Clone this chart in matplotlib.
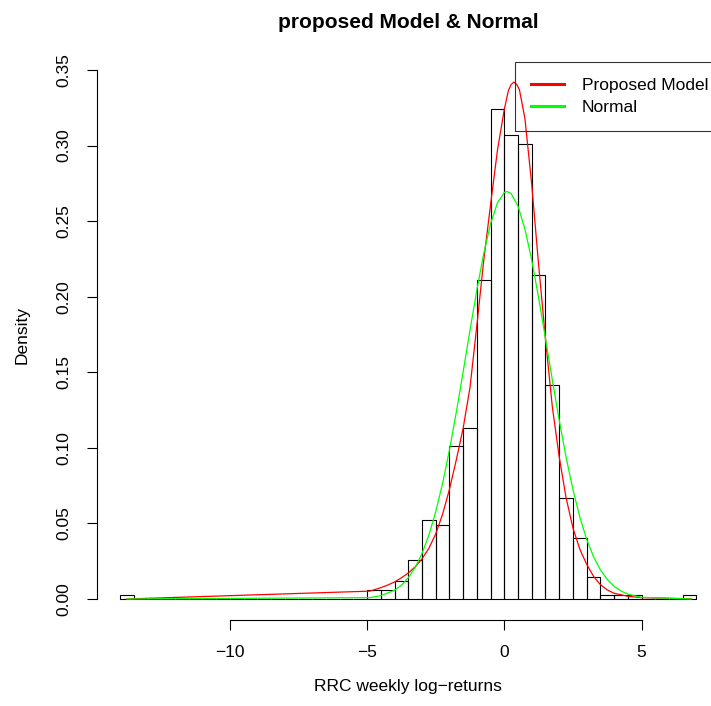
import numpy as np
import matplotlib
matplotlib.use("Agg")
import matplotlib.pyplot as plt

plt.rcParams["font.family"] = ["Liberation Sans", "DejaVu Sans"]

# histogram: bins of width 0.5 from -14 to 7, counts
bin_width = 0.5
bin_left = np.arange(-14.0, 7.0, bin_width)
counts = [1] + [0] * 17 + [2, 2, 4, 9, 18, 17, 35, 39, 73, 112,
                           106, 104, 74, 49, 23, 14, 5, 1, 1, 1] + [0, 0, 0, 1]

# fitted "proposed model" density, evaluated at the observations
red_x = [-13.75, -4.9, -4.5, -4.25, -4.0, -3.75, -3.5, -3.25, -3.0, -2.75,
         -2.5, -2.25, -2.0, -1.75, -1.5, -1.25, -1.0, -0.75, -0.5, -0.25,
         0.0, 0.15, 0.25, 0.35, 0.45, 0.55, 0.75, 1.0, 1.25, 1.5, 1.75, 2.0,
         2.25, 2.5, 2.75, 3.0, 3.25, 3.5, 3.75, 4.0, 4.5, 5.0, 6.8]
red_y = [0.0, 0.0052, 0.0075, 0.0092, 0.0113, 0.0140, 0.0172, 0.0212, 0.0265, 0.0335,
         0.0430, 0.0560, 0.0725, 0.092, 0.113, 0.140, 0.181, 0.224, 0.261, 0.297,
         0.324, 0.3365, 0.3404, 0.342, 0.3405, 0.337, 0.318, 0.274, 0.221, 0.172, 0.127, 0.094,
         0.067, 0.047, 0.033, 0.023, 0.015, 0.0095, 0.006, 0.0038, 0.0018, 0.0009, 0.0001]

# fitted normal density
green_x = [-13.75, -4.9, -4.5, -4.0, -3.75, -3.5, -3.25, -3.0, -2.75, -2.5,
           -2.25, -2.0, -1.75, -1.5, -1.25, -1.0, -0.75, -0.5, -0.25, 0.0,
           0.1, 0.25, 0.5, 0.75, 1.0, 1.25, 1.5, 1.75, 2.0, 2.25,
           2.5, 2.75, 3.0, 3.25, 3.5, 3.75, 4.0, 4.25, 4.5, 5.0, 6.8]
green_y = [0.0, 0.0009, 0.0022, 0.0058, 0.0091, 0.0140, 0.0208, 0.0301, 0.0422, 0.0576,
           0.0764, 0.0985, 0.1235, 0.1503, 0.1779, 0.2045, 0.2286, 0.2483, 0.2622, 0.2690,
           0.2696, 0.2682, 0.2599, 0.2448, 0.2241, 0.1993, 0.1724, 0.1448, 0.1183, 0.0939,
           0.0724, 0.0543, 0.0395, 0.0280, 0.0193, 0.0129, 0.0084, 0.0053, 0.0032, 0.0011, 0.0]

x_ticks = [-10, -5, 0, 5]
y_ticks = [0.00, 0.05, 0.10, 0.15, 0.20, 0.25, 0.30, 0.35]

W, H = 711, 706
fs = 12.5
fig = plt.figure(figsize=(W / 100, H / 100), dpi=100)

# plot region in pixels (it runs a bit past the right edge, like the original crop)
left, right, top, bottom = 97, 719.5, 48.8, 620.2
ax = fig.add_axes([left / W, 1 - bottom / H, (right - left) / W, (bottom - top) / H])
ax.set_xlim(-14.84, 7.84)
ax.set_ylim(-0.01403, 0.36403)

density = np.array(counts) / (sum(counts) * bin_width)
ax.bar(bin_left, density, width=bin_width, align="edge", fill=False,
       edgecolor="black", linewidth=0.8)

ax.plot(red_x, red_y, color="#FF0000", linewidth=0.9, label="Proposed Model")
ax.plot(green_x, green_y, color="#00FF00", linewidth=0.9, label="Normal")

for s in ["top", "right"]:
    ax.spines[s].set_visible(False)
ax.spines["bottom"].set_bounds(x_ticks[0], x_ticks[-1])
ax.spines["left"].set_bounds(y_ticks[0], y_ticks[-1])
for s in ["bottom", "left"]:
    ax.spines[s].set_linewidth(0.8)

ax.set_xticks(x_ticks)
ax.set_xticklabels([f"{t:d}".replace("-", "\u2212") for t in x_ticks])
ax.set_yticks(y_ticks)
ax.set_yticklabels([f"{t:.2f}" for t in y_ticks], rotation=90, va="center")
ax.tick_params(direction="out", length=7.2, width=0.8, labelsize=fs)
ax.tick_params(axis="x", pad=10.5)
ax.tick_params(axis="y", pad=11.5)

ax.set_title("proposed Model & Normal", fontsize=15, fontweight="bold", pad=15)
ax.set_xlabel("RRC weekly log\u2212returns", fontsize=fs)
ax.set_ylabel("Density", fontsize=fs)
ax.xaxis.set_label_coords(408.3 / W, 1 - 686 / H, transform=fig.transFigure)
ax.xaxis.label.set_va("center")
ax.yaxis.set_label_coords(22 / W, 1 - 334.5 / H, transform=fig.transFigure)
ax.yaxis.label.set_va("center")

leg = ax.legend(loc="upper left", bbox_to_anchor=(515 / W, 1 - 62 / H),
                bbox_transform=fig.transFigure, borderaxespad=0, fancybox=False,
                edgecolor="black", facecolor="none", framealpha=None, fontsize=fs,
                borderpad=0.9, handlelength=1.95, handletextpad=1.0, labelspacing=0.4)
leg.get_frame().set_linewidth(0.8)
for line in leg.get_lines():
    line.set_linewidth(2.2)

fig.savefig("out.png", dpi=100)
